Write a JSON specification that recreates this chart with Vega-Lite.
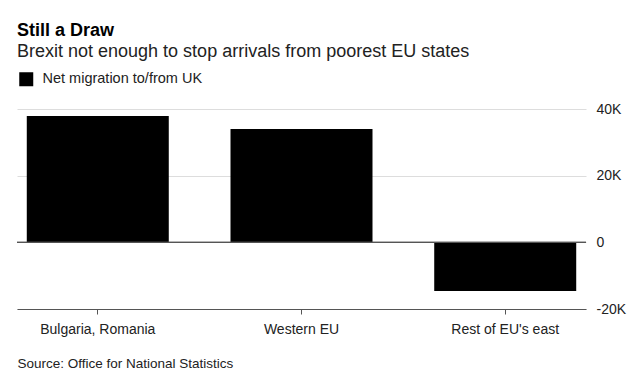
{
  "$schema": "https://vega.github.io/schema/vega-lite/v6.json",
  "autosize": "none",
  "width": 569,
  "height": 200,
  "padding": {"left": 17, "top": 109, "right": 57, "bottom": 71},
  "background": "white",
  "config": {
    "font": "Liberation Sans",
    "view": {"stroke": null}
  },
  "title": {
    "text": "Still a Draw",
    "subtitle": "Brexit not enough to stop arrivals from poorest EU states",
    "anchor": "start",
    "frame": "group",
    "fontSize": 18,
    "fontWeight": "bold",
    "color": "#000000",
    "subtitleFontSize": 18,
    "subtitleColor": "#222222",
    "subtitlePadding": 3,
    "offset": 11
  },
  "data": {
    "values": [
      {"region": "Bulgaria, Romania", "value": 37900, "series": "Net migration to/from UK"},
      {"region": "Western EU", "value": 34000, "series": "Net migration to/from UK"},
      {"region": "Rest of EU's east", "value": -14600, "series": "Net migration to/from UK"}
    ]
  },
  "layer": [
    {
      "mark": {"type": "bar"},
      "encoding": {
        "x": {
          "field": "region",
          "type": "nominal",
          "sort": null,
          "scale": {"paddingInner": 0.303, "paddingOuter": 0.048},
          "axis": {
            "orient": "bottom",
            "title": "Source: Office for National Statistics",
            "titleAnchor": "start",
            "titleAlign": "left",
            "titleFontWeight": "normal",
            "titleFontSize": 13.5,
            "titleColor": "#222222",
            "titlePadding": 20,
            "labelAngle": 0,
            "labelFontSize": 14,
            "labelColor": "#222222",
            "labelPadding": 8,
            "domainColor": "#555555",
            "tickColor": "#555555",
            "tickSize": 5,
            "grid": false
          }
        },
        "y": {
          "field": "value",
          "type": "quantitative",
          "scale": {"domain": [-20000, 40000], "nice": false},
          "axis": {
            "orient": "right",
            "title": null,
            "values": [-20000, 0, 20000, 40000],
            "labelExpr": "datum.value == 0 ? '0' : (datum.value / 1000) + 'K'",
            "labelAlign": "left",
            "labelPadding": 10,
            "labelFontSize": 14,
            "labelColor": "#222222",
            "domain": false,
            "ticks": false,
            "grid": true,
            "gridColor": "#dddddd"
          }
        },
        "color": {
          "field": "series",
          "type": "nominal",
          "scale": {"range": ["#000000"]},
          "legend": {
            "title": null,
            "orient": "none",
            "legendX": 2,
            "legendY": -37,
            "padding": 0,
            "symbolType": "square",
            "symbolSize": 196,
            "symbolStrokeWidth": 0,
            "labelFontSize": 14.5,
            "labelColor": "#222222",
            "labelOffset": 9
          }
        }
      }
    },
    {
      "mark": {"type": "rule", "color": "#555555", "strokeWidth": 1},
      "encoding": {"y": {"datum": 0}}
    }
  ]
}
